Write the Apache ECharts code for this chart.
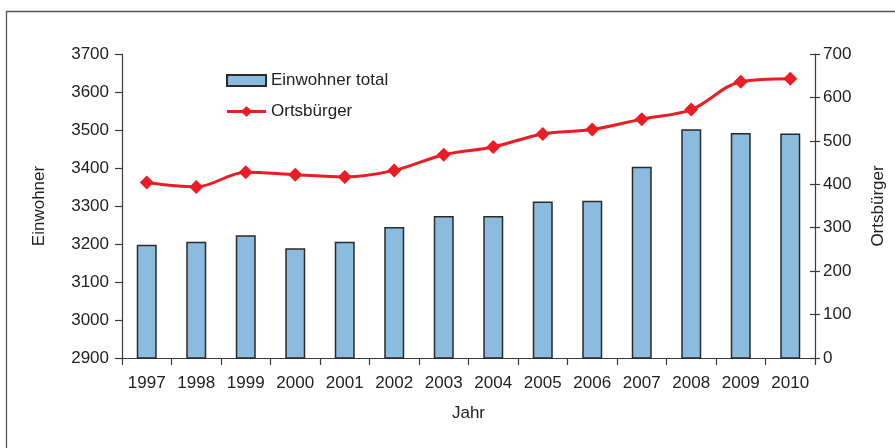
<!DOCTYPE html>
<html><head><meta charset="utf-8">
<script src="https://cdn.jsdelivr.net/npm/echarts@6/dist/echarts.min.js"></script>
<style>html,body{margin:0;padding:0;background:#fff}#c{width:895px;height:448px}</style>
</head><body><div id="c"></div>
<script>
var years = ['1997','1998','1999','2000','2001','2002','2003','2004','2005','2006','2007','2008','2009','2010'];
var einwohner = [3198, 3206, 3223, 3189, 3206, 3245, 3274, 3274, 3312, 3314, 3403, 3502, 3492, 3491];
var ortsbuerger = [404, 394, 428, 422, 417, 432, 468, 486, 516, 526, 550, 572, 636, 643];
var leftTicks = [2900, 3700, 100];
var rightTicks = [0, 700, 100];

var FONT = "'Liberation Sans',Arial,sans-serif";
var FS = 17;
var TXT = '#222';
var chart = echarts.init(document.getElementById('c'), null, {renderer:'canvas'});
var axisLineStyle = {color:'#3a3a3a', width:1.2};
var plain = function(v){ return String(v); };
var lineIcon = 'path://M0,4 L15.6,4 L20,0 L24.4,4 L40,4 L40,7 L24.4,7 L20,11 L15.6,7 L0,7 Z';
chart.setOption({
  animation:false,
  textStyle:{fontFamily:FONT},
  graphic:[{type:'rect', shape:{x:6.5,y:11.5,width:1000,height:1000}, style:{fill:'none', stroke:'#555', lineWidth:1.3}, z:-1}],
  grid:{left:122, right:77, top:54, bottom:90},
  legend:{
    orient:'vertical', left:221, top:67, itemWidth:39, itemHeight:11, itemGap:14,
    textStyle:{fontFamily:FONT, fontSize:FS, color:TXT},
    data:[{name:'Einwohner total', icon:'rect'},{name:'Ortsbürger', icon:lineIcon, itemStyle:{color:'#ec1c24', borderWidth:0}}]
  },
  xAxis:{
    type:'category', data:years, boundaryGap:true,
    name:'Jahr', nameLocation:'middle', nameGap:47,
    nameTextStyle:{fontFamily:FONT, fontSize:FS, color:TXT},
    axisLine:{lineStyle:axisLineStyle},
    axisTick:{show:true, length:7, alignWithLabel:false, lineStyle:axisLineStyle},
    axisLabel:{fontFamily:FONT, fontSize:FS, color:TXT, margin:17, interval:0}
  },
  yAxis:[{
    type:'value', min:leftTicks[0], max:leftTicks[1], interval:leftTicks[2], position:'left',
    name:'Einwohner', nameLocation:'middle', nameGap:74, nameRotate:90,
    nameTextStyle:{fontFamily:FONT, fontSize:FS, color:TXT},
    splitLine:{show:false},
    axisLine:{show:true, lineStyle:axisLineStyle},
    axisTick:{show:true, length:7, lineStyle:axisLineStyle},
    axisLabel:{fontFamily:FONT, fontSize:FS, color:TXT, margin:13, formatter:plain}
  },{
    type:'value', min:rightTicks[0], max:rightTicks[1], interval:rightTicks[2], position:'right',
    name:'Ortsbürger', nameLocation:'middle', nameGap:55, nameRotate:90,
    nameTextStyle:{fontFamily:FONT, fontSize:FS, color:TXT},
    splitLine:{show:false},
    axisLine:{show:true, lineStyle:axisLineStyle},
    axisTick:{show:true, length:5, lineStyle:axisLineStyle},
    axisLabel:{fontFamily:FONT, fontSize:FS, color:TXT, margin:8, formatter:plain}
  },{
    type:'value', min:rightTicks[0], max:rightTicks[1], interval:rightTicks[2], position:'right',
    splitLine:{show:false},
    axisLine:{show:false},
    axisTick:{show:true, inside:true, length:5, lineStyle:axisLineStyle},
    axisLabel:{show:false}
  }],
  series:[{
    name:'Einwohner total', type:'bar', yAxisIndex:0, data:einwohner, barWidth:20,
    itemStyle:{color:'#8bbce0', borderColor:'#2a2a2a', borderWidth:1.5}
  },{
    name:'Ortsbürger', type:'line', yAxisIndex:1, data:ortsbuerger, smooth:0.35,
    symbol:'diamond', symbolSize:14,
    lineStyle:{color:'#ec1c24', width:3},
    itemStyle:{color:'#ec1c24'}
  }]
});
</script></body></html>
